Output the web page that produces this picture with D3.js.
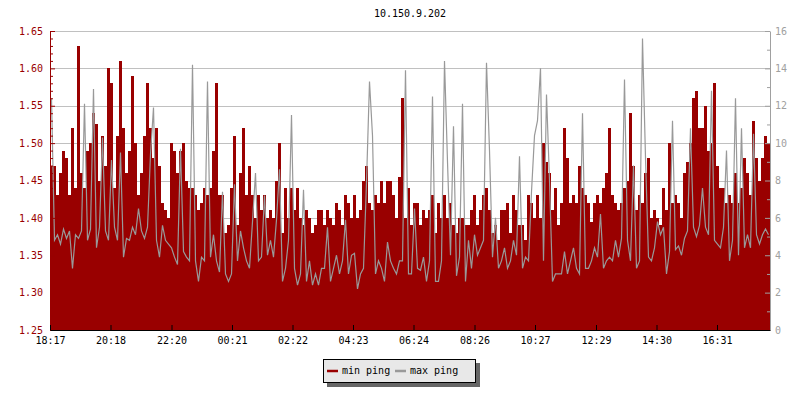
<!DOCTYPE html>
<html lang="en">
<head>
<meta charset="UTF-8">
<script src="https://d3js.org/d3.v7.min.js"></script>
<style>
  body { margin: 0; background: #fff; }
  text { font-family: "DejaVu Sans Mono", monospace; }
</style>
</head>
<body>
<div id="chart"></div>
<script>
var title = "10.150.9.202";
var seriesNames = ["min ping", "max ping"];
var seriesColors = ["#990000", "#999999"];

// x axis labels, every ~2h from the start time
var tickLabels = ["18:17", "20:18", "22:20", "00:21", "02:22", "04:23",
                  "06:24", "08:26", "10:27", "12:29", "14:30", "16:31"];
var leftTicks = [1.25, 1.30, 1.35, 1.40, 1.45, 1.50, 1.55, 1.60, 1.65];
var rightTicks = [0, 2, 4, 6, 8, 10, 12, 14, 16];

// min ping (left axis), one value every 6 minutes over 24h
var minPing = [
  1.47,1.47,1.43,1.46,1.49,1.48,1.43,1.52,1.44,1.63,
  1.46,1.44,1.49,1.50,1.54,1.525,1.45,1.51,1.47,1.60,
  1.58,1.44,1.51,1.61,1.52,1.46,1.49,1.59,1.50,1.43,
  1.46,1.51,1.58,1.52,1.48,1.52,1.47,1.42,1.41,1.40,
  1.50,1.49,1.46,1.49,1.50,1.45,1.44,1.44,1.43,1.41,
  1.42,1.44,1.43,1.44,1.49,1.58,1.43,1.43,1.38,1.39,
  1.44,1.51,1.39,1.46,1.52,1.43,1.47,1.43,1.40,1.43,
  1.41,1.43,1.40,1.41,1.40,1.45,1.50,1.38,1.44,1.40,
  1.44,1.41,1.44,1.40,1.39,1.41,1.40,1.38,1.39,1.41,
  1.41,1.39,1.41,1.40,1.39,1.42,1.41,1.39,1.43,1.42,
  1.40,1.43,1.40,1.41,1.45,1.47,1.42,1.41,1.43,1.42,
  1.45,1.42,1.45,1.45,1.43,1.40,1.455,1.56,1.40,1.44,
  1.39,1.42,1.42,1.39,1.41,1.40,1.41,1.43,1.38,1.42,
  1.40,1.43,1.40,1.42,1.39,1.38,1.40,1.40,1.39,1.39,
  1.41,1.43,1.39,1.41,1.43,1.44,1.41,1.38,1.39,1.37,
  1.41,1.41,1.42,1.38,1.43,1.41,1.39,1.39,1.37,1.43,
  1.42,1.40,1.43,1.40,1.50,1.475,1.46,1.41,1.44,1.39,
  1.42,1.52,1.48,1.42,1.43,1.42,1.47,1.44,1.43,1.42,
  1.395,1.42,1.43,1.42,1.44,1.46,1.52,1.43,1.42,1.41,
  1.42,1.44,1.45,1.54,1.47,1.41,1.43,1.42,1.46,1.48,
  1.40,1.41,1.40,1.39,1.44,1.41,1.50,1.42,1.43,1.42,
  1.40,1.46,1.475,1.50,1.56,1.57,1.52,1.52,1.55,1.49,
  1.50,1.58,1.47,1.44,1.44,1.42,1.43,1.42,1.46,1.42,
  1.44,1.48,1.46,1.43,1.53,1.48,1.45,1.48,1.51,1.50
];

// max ping (right axis), same sampling
var maxPing = [
  12.4,4.8,5.1,4.6,5.4,4.9,5.3,3.3,5.1,4.9,
  5.3,12.1,4.8,5.4,12.9,4.4,5.5,10.3,5.3,4.8,
  9.1,5.5,4.8,9.5,3.9,4.9,4.8,5.5,5.1,6.5,
  5.3,4.9,5.5,9.4,11.9,4.8,3.9,5.6,4.8,4.6,
  4.4,3.9,3.5,9.7,4.2,3.9,3.7,14.2,3.7,2.6,
  3.9,3.7,13.3,3.9,5.1,3.7,3.1,7.4,3.0,2.6,
  3.0,7.8,3.7,5.3,4.4,3.7,3.3,5.8,8.4,3.7,
  3.9,7.2,4.0,4.8,3.9,5.9,8.6,2.6,3.3,4.8,
  11.5,3.3,2.4,3.0,7.5,2.6,3.7,2.4,3.0,2.4,
  3.3,3.3,5.5,2.6,3.3,4.0,3.0,3.7,5.9,3.0,
  4.0,4.1,2.2,3.0,3.3,7.9,13.3,10.4,3.0,3.7,
  3.3,2.6,4.7,3.7,3.3,3.0,3.7,3.7,13.9,3.0,
  3.0,6.5,3.3,3.2,3.9,2.6,3.7,12.5,2.6,2.6,
  3.7,14.4,9.0,4.0,10.9,2.9,3.9,12.1,2.6,4.8,
  3.3,5.1,4.0,4.4,4.8,14.3,9.6,3.9,6.0,3.3,
  3.7,4.4,3.3,3.7,4.8,4.0,9.3,3.3,3.9,3.7,
  7.4,10.4,11.2,14.0,3.7,12.6,8.0,2.6,3.0,3.0,
  3.0,4.2,3.0,3.7,4.4,3.3,3.0,11.6,3.3,3.3,
  3.7,4.4,3.9,6.2,3.3,3.7,3.9,3.7,4.8,3.9,
  4.9,13.4,4.8,3.7,8.8,3.3,3.7,15.6,9.2,3.9,
  3.7,4.4,5.8,5.1,5.5,3.0,4.2,11.2,4.3,4.5,
  4.0,4.9,5.3,10.8,5.5,5.0,5.6,7.6,5.5,5.1,
  12.8,4.8,4.6,4.4,5.5,9.6,3.7,4.8,12.4,4.0,
  10.8,4.4,5.1,4.4,10.5,5.1,4.6,5.1,5.4,5.1
];

var width = 800, height = 400;
var plot = { left: 50, right: 770, top: 31, bottom: 330 };
var font = "DejaVu Sans Mono";

var svg = d3.select("#chart").append("svg")
    .attr("width", width)
    .attr("height", height);

var start = new Date(2000, 0, 1, 18, 17);
var span = 1440;                       // minutes shown
var stepMin = span / minPing.length;
function timeAt(m) { return new Date(start.getTime() + m * 60000); }

var x = d3.scaleTime().domain([start, timeAt(span)]).range([plot.left, plot.right]);
var yL = d3.scaleLinear().domain([1.25, 1.65]).range([plot.bottom, plot.top]);
var yR = d3.scaleLinear().domain([0, 16]).range([plot.bottom, plot.top]);

// tick times from the labels (wrap past midnight)
var startMin = start.getHours() * 60 + start.getMinutes();
var tickDates = tickLabels.map(function(s) {
  var p = s.split(":");
  var m = (+p[0] * 60 + +p[1] - startMin + 1440) % 1440;
  return timeAt(m);
});

// grid
svg.append("g").selectAll("line")
  .data(leftTicks.slice(1))
  .join("line")
    .attr("x1", plot.left).attr("x2", plot.right)
    .attr("y1", function(d) { return Math.round(yL(d)) + 0.5; })
    .attr("y2", function(d) { return Math.round(yL(d)) + 0.5; })
    .attr("stroke", "#c0c0c0");

// min ping area
var areaData = minPing.map(function(v, i) { return { t: timeAt(i * stepMin), v: v }; });
areaData.push({ t: timeAt(span), v: minPing[minPing.length - 1] });

svg.append("path")
  .datum(areaData)
  .attr("fill", seriesColors[0])
  .attr("shape-rendering", "crispEdges")
  .attr("d", d3.area()
    .curve(d3.curveStepAfter)
    .x(function(d) { return x(d.t); })
    .y0(yL(1.25))
    .y1(function(d) { return yL(d.v); }));

// max ping line
var lineData = maxPing.map(function(v, i) { return { t: timeAt(i * stepMin + stepMin / 2), v: v }; });

svg.append("path")
  .datum(lineData)
  .attr("fill", "none")
  .attr("stroke", seriesColors[1])
  .attr("stroke-width", 1.2)
  .attr("d", d3.line()
    .x(function(d) { return x(d.t); })
    .y(function(d) { return yR(d.v); }));

function styleAxis(g, color) {
  g.selectAll(".domain").attr("stroke", color);
  g.selectAll(".tick line").attr("stroke", color);
  g.selectAll(".tick text").attr("fill", color)
    .attr("font-family", font).attr("font-size", 10);
}

// left axis
var minorLeft = d3.range(125, 166).map(function(d) { return d / 100; })
  .filter(function(d) { return Math.round(d * 100) % 5 !== 0; });

svg.append("g")
  .attr("transform", "translate(" + plot.left + ",0)")
  .call(d3.axisLeft(yL).tickValues(minorLeft).tickFormat("").tickSizeInner(-3).tickSizeOuter(0))
  .call(function(g) { g.select(".domain").remove(); styleAxis(g, "#990000"); });

svg.append("g")
  .attr("transform", "translate(" + plot.left + ",0)")
  .call(d3.axisLeft(yL).tickValues(leftTicks).tickFormat(d3.format(".2f"))
    .tickSizeInner(-5).tickSizeOuter(0).tickPadding(7))
  .call(function(g) { styleAxis(g, "#990000"); });

// right axis
svg.append("g")
  .attr("transform", "translate(" + plot.right + ",0)")
  .call(d3.axisRight(yR).tickValues(d3.range(1, 16, 2)).tickFormat("").tickSizeInner(-3).tickSizeOuter(0))
  .call(function(g) { g.select(".domain").remove(); styleAxis(g, "#a0a0a0"); });

svg.append("g")
  .attr("transform", "translate(" + plot.right + ",0)")
  .call(d3.axisRight(yR).tickValues(rightTicks)
    .tickSizeInner(-5).tickSizeOuter(0).tickPadding(5))
  .call(function(g) { styleAxis(g, "#a0a0a0"); });

// bottom axis
svg.append("g")
  .attr("transform", "translate(0," + plot.bottom + ")")
  .call(d3.axisBottom(x).tickValues(tickDates).tickFormat(d3.timeFormat("%H:%M"))
    .tickSizeInner(-5).tickSizeOuter(0).tickPadding(7))
  .call(function(g) { styleAxis(g, "#000"); });

// title
svg.append("text")
  .attr("x", (plot.left + plot.right) / 2)
  .attr("y", 17)
  .attr("text-anchor", "middle")
  .attr("font-family", font)
  .attr("font-size", 10)
  .text(title);

// legend
var legend = svg.append("g").attr("transform", "translate(323,359)");
legend.append("rect").attr("x", 4).attr("y", 4).attr("width", 153).attr("height", 24).attr("fill", "#666");
legend.append("rect").attr("x", 0.5).attr("y", 0.5).attr("width", 152).attr("height", 23)
  .attr("fill", "#e8e8e8").attr("stroke", "#000");

var item = legend.selectAll(".item")
  .data(seriesNames)
  .join("g")
    .attr("class", "item")
    .attr("transform", function(d, i) { return "translate(" + (4 + i * 68) + ",0)"; });

item.append("line")
  .attr("x1", 0).attr("x2", 11).attr("y1", 12).attr("y2", 12)
  .attr("stroke-width", 2.5)
  .attr("stroke", function(d, i) { return seriesColors[i]; });

item.append("text")
  .attr("x", 15).attr("y", 15)
  .attr("font-family", font)
  .attr("font-size", 10)
  .attr("fill", "#000")
  .text(function(d) { return d; });
</script>
</body>
</html>
